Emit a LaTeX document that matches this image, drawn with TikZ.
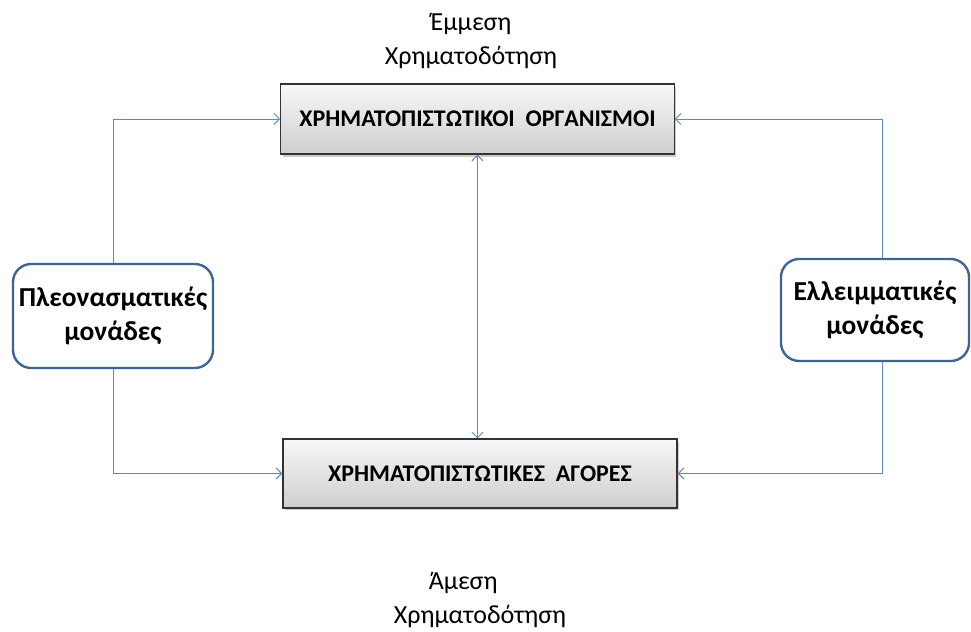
\documentclass[tikz,border=0pt]{standalone}
\usepackage{fontspec}
\setmainfont{Carlito}
\usepackage{tikz}
\usetikzlibrary{shapes.geometric, arrows, arrows.meta, shadows}
\definecolor{linkblue}{HTML}{5A8AC6}
\definecolor{unitblue}{HTML}{3F6494}
\tikzstyle{institution} = [rectangle, minimum width=9.83cm, minimum height=1.75cm, text centered, draw=black!80, line width=0.9pt, top color=gray!6, bottom color=gray!38, drop shadow={shadow xshift=1.2pt, shadow yshift=-1.8pt, opacity=0.4}, font=\fontsize{17}{20}\selectfont\bfseries]
\tikzstyle{unit} = [rectangle, rounded corners=13pt, text centered, align=center, draw=unitblue, line width=1.7pt, fill=white, font=\fontsize{19.5}{24}\selectfont\bfseries]
\tikzstyle{caption} = [align=center, font=\fontsize{18.5}{23.5}\selectfont]
\tikzstyle{arrow} = [draw=linkblue, line width=0.7pt, -{Straight Barb[length=4pt, width=8pt]}]
\tikzstyle{twoway} = [draw=linkblue, line width=0.7pt, {Straight Barb[length=4pt, width=8pt]}-{Straight Barb[length=4pt, width=8pt]}]

\begin{document}
\begin{tikzpicture}[x=0.025cm, y=-0.025cm]
\useasboundingbox (0,0) rectangle (971,631);
\node (organ) [institution] at (477.5,119) {ΧΡΗΜΑΤΟΠΙΣΤΩΤΙΚΟΙ\ \ ΟΡΓΑΝΙΣΜΟΙ};
\node (agor) [institution, minimum width=9.85cm, minimum height=1.72cm] at (480,473.5) {ΧΡΗΜΑΤΟΠΙΣΤΩΤΙΚΕΣ\ \ ΑΓΟΡΕΣ};
\node (pleon) [unit, minimum width=5cm, minimum height=2.6cm] at (113,316) {Πλεονασματικές\\μονάδες};
\node (elleim) [unit, minimum width=4.7cm, minimum height=2.55cm] at (875,310) {Ελλειμματικές\\μονάδες};
\node (emmesi) [caption] at (471,41) {Έμμεση\\Χρηματοδότηση};
\node (amesi) [caption] at (480,600) {Άμεση\kern24pt\\Χρηματοδότηση};
\coordinate (r1) at (882,0);

\draw [arrow](pleon.north) |- (organ.west);
\draw [arrow](pleon.south) |- (agor.west);
\draw [arrow](elleim.north -| r1) |- (organ.east);
\draw [arrow](elleim.south -| r1) |- (agor.east);
\draw [twoway](organ.south) -- (organ.south |- agor.north);
\end{tikzpicture}
\end{document}
